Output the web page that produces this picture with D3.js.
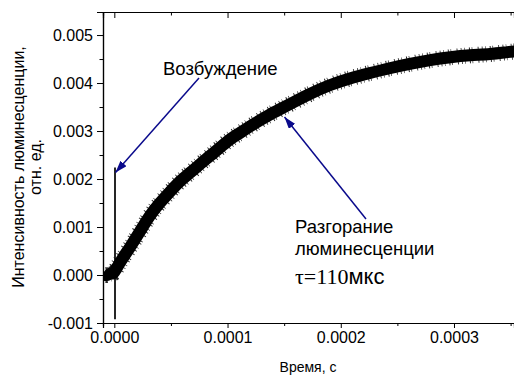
<!DOCTYPE html>
<html>
<head>
<meta charset="utf-8">
<script src="https://cdn.jsdelivr.net/npm/d3@7"></script>
<style>
  body { margin: 0; background: #fff; }
  svg { display: block; }
  text { font-family: "Liberation Sans", Arial, sans-serif; fill: #000; }
</style>
</head>
<body>
<script>
// time in microseconds, signal in arb. units (centre of the noisy trace)
var timeUs = [-10, -7, -4, -1, 0.6, 5, 14, 23, 31.5, 40, 49, 58, 67, 75.6, 84.5, 93, 102, 111, 120, 129,
    137, 146, 155, 173, 190, 208, 226, 243, 261, 279, 297, 314, 332, 349, 355];
var signal = [0.00003, -0.00002, 0.00004, 0.00002, 0.00008, 0.00027, 0.00058, 0.00092, 0.00125, 0.0015,
    0.00173, 0.00196, 0.00213, 0.00231, 0.00248, 0.00265, 0.00283, 0.00296, 0.0031, 0.00323,
    0.00334, 0.00345, 0.00356, 0.00378, 0.00396, 0.0041, 0.00421, 0.00431, 0.0044, 0.00448,
    0.00454, 0.00458, 0.0046, 0.00465, 0.00466];

// excitation spike at t = 0
var spikeUs = 0.6;
var spikeRange = [-0.00092, 0.00224];

var xTicks = [0, 0.0001, 0.0002, 0.0003];
var xMinor = [0.00005, 0.00015, 0.00025, 0.00035];
var yTicks = [-0.001, 0, 0.001, 0.002, 0.003, 0.004, 0.005];
var yMinor = [-0.0005, 0.0005, 0.0015, 0.0025, 0.0035, 0.0045];

var width = 514, height = 376;

var svg = d3.select("body").append("svg")
    .attr("width", width)
    .attr("height", height);

var x = d3.scaleLinear().domain([-0.00001, 0.000353]).range([103, 514]);
var y = d3.scaleLinear().domain([-0.001, 0.00548]).range([323, 12]);

var data = timeUs.map(function (t, i) {
    return { t: t * 1e-6, v: signal[i] };
});

// clip to the plot frame
svg.append("clipPath").attr("id", "plot")
    .append("rect")
    .attr("x", 103).attr("y", 12)
    .attr("width", 411).attr("height", 311);

var line = d3.line()
    .x(function (d) { return x(d.t); })
    .y(function (d) { return y(d.v); })
    .curve(d3.curveBasis);

var trace = svg.append("g").attr("clip-path", "url(#plot)");

// ragged edge of the noisy trace
trace.append("path")
    .datum(data)
    .attr("d", line)
    .attr("fill", "none")
    .attr("stroke", "#000")
    .attr("stroke-width", 16)
    .attr("stroke-dasharray", "0.8 2.6 0.6 4.1 1 1.7 0.7 5.3 0.9 3.2")
    .attr("stroke-opacity", 0.85);

trace.append("path")
    .datum(data)
    .attr("d", line)
    .attr("fill", "none")
    .attr("stroke", "#000")
    .attr("stroke-width", 12)
    .attr("stroke-linejoin", "round");

svg.append("line")
    .attr("x1", x(spikeUs * 1e-6)).attr("x2", x(spikeUs * 1e-6))
    .attr("y1", y(spikeRange[0])).attr("y2", y(spikeRange[1]))
    .attr("stroke", "#000")
    .attr("stroke-width", 1.7);

// axes
var fmtY = function (d) { return d3.format(".3f")(d).replace("\u2212", "-"); };
var fmtX = function (d) { return d3.format(".4f")(d); };

svg.append("g").attr("transform", "translate(103,0)")
    .call(d3.axisLeft(y).tickValues(yTicks).tickFormat(fmtY).tickSize(6).tickPadding(4));
svg.append("g").attr("transform", "translate(103,0)")
    .call(d3.axisLeft(y).tickValues(yMinor).tickFormat("").tickSize(3.5));

svg.append("g").attr("transform", "translate(0,323)")
    .call(d3.axisBottom(x).tickValues(xTicks).tickFormat(fmtX).tickSize(5).tickPadding(4));
svg.append("g").attr("transform", "translate(0,323)")
    .call(d3.axisBottom(x).tickValues(xMinor).tickFormat("").tickSize(3));

svg.append("g").attr("transform", "translate(0,12)")
    .call(d3.axisBottom(x).tickValues(xTicks).tickFormat("").tickSize(6));
svg.append("g").attr("transform", "translate(0,12)")
    .call(d3.axisBottom(x).tickValues(xMinor).tickFormat("").tickSize(3.5));

svg.selectAll(".domain").attr("stroke", "#000").attr("stroke-width", 1.2);
svg.selectAll(".tick line").attr("stroke", "#000");
svg.selectAll(".tick text")
    .style("font-family", "'Liberation Sans', Arial, sans-serif")
    .style("font-size", "16px");

// axis titles
svg.append("text")
    .attr("x", 308).attr("y", 372)
    .attr("text-anchor", "middle")
    .style("font-size", "14px")
    .text("Время, с");

var yTitle = svg.append("text")
    .attr("transform", "translate(24,167) rotate(-90)")
    .attr("text-anchor", "middle")
    .style("font-size", "16px");
yTitle.append("tspan").attr("x", 0).attr("y", 0).text("Интенсивность люминесценции,");
yTitle.append("tspan").attr("x", 0).attr("y", 17).text("отн. ед.");

// annotations
var arrowColor = "#0a0a8c";
svg.append("defs").append("marker")
    .attr("id", "head")
    .attr("viewBox", "0 0 12 8")
    .attr("refX", 12).attr("refY", 4)
    .attr("markerWidth", 12).attr("markerHeight", 8)
    .attr("markerUnits", "userSpaceOnUse")
    .attr("orient", "auto")
    .append("path")
    .attr("d", "M0,0 L12,4 L0,8 Z")
    .attr("fill", arrowColor);

svg.append("line")
    .attr("x1", 199).attr("y1", 78)
    .attr("x2", 115.5).attr("y2", 172.5)
    .attr("stroke", arrowColor).attr("stroke-width", 1.5)
    .attr("marker-end", "url(#head)");

svg.append("line")
    .attr("x1", 366).attr("y1", 219)
    .attr("x2", 284.5).attr("y2", 117)
    .attr("stroke", arrowColor).attr("stroke-width", 1.5)
    .attr("marker-end", "url(#head)");

svg.append("text").attr("x", 163).attr("y", 75)
    .style("font-size", "18.5px").text("Возбуждение");

svg.append("text").attr("x", 295).attr("y", 233)
    .style("font-size", "18.5px").text("Разгорание");
svg.append("text").attr("x", 295).attr("y", 255)
    .style("font-size", "18.5px").text("люминесценции");

var tau = svg.append("text").attr("x", 295).attr("y", 284);
tau.append("tspan")
    .style("font-family", "'Liberation Serif', 'Times New Roman', serif")
    .style("font-size", "22px")
    .text("τ=110");
tau.append("tspan")
    .style("font-size", "22px")
    .text("мкс");
</script>
</body>
</html>
